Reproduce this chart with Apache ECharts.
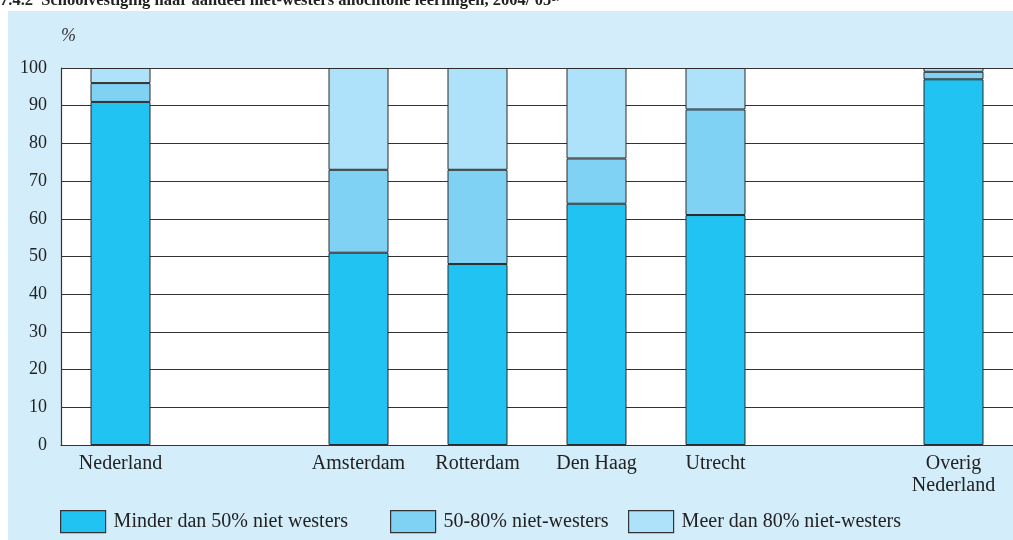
<!DOCTYPE html>
<html>
<head>
<meta charset="utf-8">
<style>
  html, body { margin: 0; padding: 0; background: #ffffff; }
  #chart { width: 1013px; height: 540px; }
</style>
<script src="https://cdn.jsdelivr.net/npm/echarts@6/dist/echarts.min.js"></script>
</head>
<body>
<div id="chart"></div>
<script>
// Schoolvestiging naar aandeel niet-westers allochtone leerlingen, 2004/'05
const categories = ['Nederland', '', 'Amsterdam', 'Rotterdam', 'Den Haag', 'Utrecht', '', 'Overig\nNederland'];
const minder50 = [91, null, 51, 48, 64, 61, null, 97];
const tussen5080 = [5, null, 22, 25, 12, 28, null, 2];
const meer80 = [4, null, 27, 27, 24, 11, null, 1];
const seriesNames = ['Minder dan 50% niet westers', '50-80% niet-westers', 'Meer dan 80% niet-westers'];
const yTicks = [0, 10, 20, 30, 40, 50, 60, 70, 80, 90, 100];

const FONT = '"Liberation Serif", "DejaVu Serif", serif';
const colors = ['#21c3f2', '#80d2f5', '#aee2fa'];
const borderColor = '#2b2b2b';

const chart = echarts.init(document.getElementById('chart'), null, { renderer: 'canvas' });

function barSeries(name, data, color) {
  return {
    name: name,
    type: 'bar',
    stack: 'total',
    data: data,
    barWidth: 60,
    itemStyle: { color: color, borderColor: borderColor, borderWidth: 1 },
    emphasis: { disabled: true },
    animation: false
  };
}

function legendAt(left, name) {
  return {
    left: left,
    top: 510,
    padding: 0,
    data: [name],
    icon: 'rect',
    itemWidth: 45,
    itemHeight: 22,
    itemGap: 0,
    selectedMode: false,
    textStyle: { fontFamily: FONT, fontSize: 20, color: '#222', padding: [7, 0, 0, 3] },
    itemStyle: { borderColor: '#333', borderWidth: 1.2 }
  };
}

const option = {
  backgroundColor: '#ffffff',
  animation: false,
  graphic: [
    { type: 'rect', z: -10, silent: true, shape: { x: 8, y: 11, width: 1010, height: 535 }, style: { fill: '#d3eefa' } },
    { type: 'text', left: 0, top: -8, silent: true,
      style: { text: "7.4.2  Schoolvestiging naar aandeel niet-westers allochtone leerlingen, 2004/'05¹⁾",
               font: 'bold 16.5px ' + FONT, fill: '#222' } },
    { type: 'text', left: 61, top: 27, silent: true,
      style: { text: '%', font: 'italic 18px ' + FONT, fill: '#333' } }
  ],
  grid: { left: 61, top: 68, width: 962, height: 377, backgroundColor: '#ffffff', show: true, borderWidth: 0 },
  legend: [
    legendAt(60, seriesNames[0]),
    legendAt(390, seriesNames[1]),
    legendAt(628, seriesNames[2])
  ],
  xAxis: {
    type: 'category',
    data: categories,
    boundaryGap: true,
    axisLine: { show: true, lineStyle: { color: '#333', width: 1.2 } },
    axisTick: { show: false },
    axisLabel: { fontFamily: FONT, fontSize: 20, color: '#222', margin: 8, lineHeight: 22, interval: 0 }
  },
  yAxis: {
    type: 'value',
    min: 0,
    max: 100,
    interval: 10,
    axisLine: { show: true, lineStyle: { color: '#333', width: 1.2 } },
    axisTick: { show: false },
    axisLabel: { fontFamily: FONT, fontSize: 18, color: '#222', margin: 14,
                 formatter: v => yTicks.includes(v) ? String(v) : '' },
    splitLine: { show: true, lineStyle: { color: '#333', width: 1.2 } }
  },
  series: [
    barSeries(seriesNames[0], minder50, colors[0]),
    barSeries(seriesNames[1], tussen5080, colors[1]),
    barSeries(seriesNames[2], meer80, colors[2])
  ]
};

chart.setOption(option);
</script>
</body>
</html>
